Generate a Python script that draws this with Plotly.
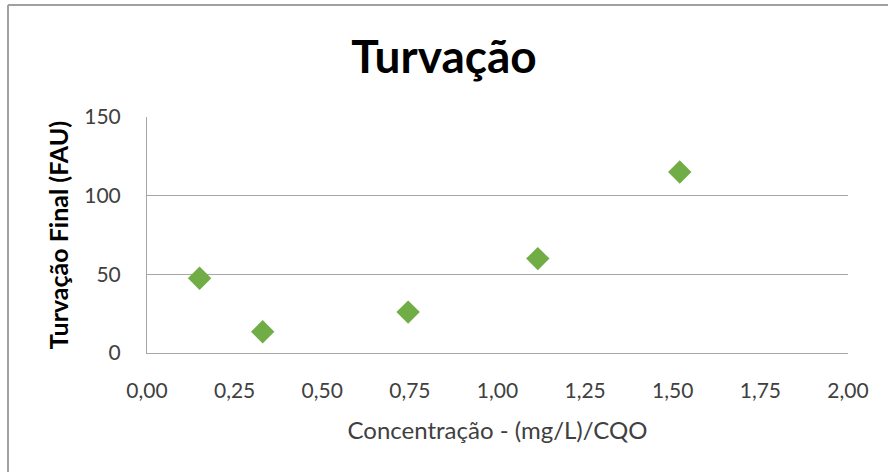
import plotly.graph_objects as go

concentracao = [0.15, 0.33, 0.745, 1.115, 1.52]
turvacao = [47.5, 13.5, 26, 60, 115]
x_ticks = [0, 0.25, 0.5, 0.75, 1.0, 1.25, 1.5, 1.75, 2.0]
x_tick_labels = ["0,00", "0,25", "0,50", "0,75", "1,00", "1,25", "1,50", "1,75", "2,00"]
y_ticks = [0, 50, 100, 150]
y_tick_labels = ["0", "50", "100", "150"]

FONT = "Lato, 'Open Sans', sans-serif"
GRID = "#a6a6a6"

fig = go.Figure()
fig.add_trace(go.Scatter(
    x=concentracao, y=turvacao, mode="markers",
    marker=dict(symbol="diamond", size=18, color="#70AD47", line=dict(width=0)),
    showlegend=False, cliponaxis=False,
))

fig.update_layout(
    width=888, height=472,
    margin=dict(l=147, r=40, t=117, b=119),
    paper_bgcolor="white", plot_bgcolor="white",
    font=dict(family=FONT, color="#404040"),
    title=dict(text="<b>Turvação</b>", x=0.5, xanchor="center", y=0.88, yanchor="middle",
               font=dict(family=FONT, size=46, color="black")),
    xaxis=dict(range=[0, 2], tickvals=x_ticks, ticktext=x_tick_labels,
               showgrid=False, zeroline=False, showline=True, linecolor=GRID, linewidth=1,
               ticks="", tickfont=dict(size=21, color="#404040"), ticklabelstandoff=19,
               title=dict(text="Concentração - (mg/L)/CQO", standoff=20,
                          font=dict(size=24, color="#404040"))),
    yaxis=dict(range=[0, 150], tickvals=y_ticks, ticktext=y_tick_labels,
               showgrid=True, gridcolor=GRID, gridwidth=1, zeroline=False,
               showline=True, linecolor=GRID, linewidth=1, ticks="",
               tickfont=dict(size=21, color="#404040"), ticklabelstandoff=21,
               title=dict(text="<b>Turvação Final (FAU)</b>", standoff=8,
                          font=dict(size=25, color="black"))),
    shapes=[
        dict(type="line", xref="paper", yref="paper",
             x0=-139/701, x1=888/701, y0=(472-119-5)/236, y1=(472-119-5)/236,
             line=dict(color="#a0a0a0", width=2)),
        dict(type="line", xref="paper", yref="paper",
             x0=-139/701, x1=-139/701, y0=(472-119-5)/236, y1=-200/236,
             line=dict(color="#a0a0a0", width=2)),
    ],
)

fig.write_html("out.html")
